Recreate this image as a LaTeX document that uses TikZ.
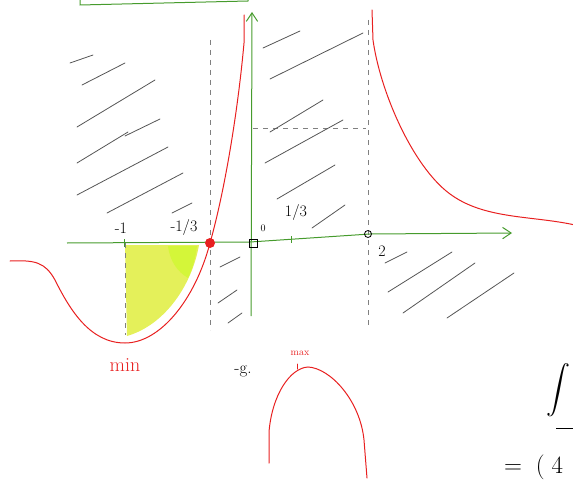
\documentclass[tikz,border=0pt]{standalone}
\usepackage{graphicx}
\usepackage{tikz}
\usetikzlibrary{arrows.meta}
\definecolor{axisgreen}{RGB}{70,155,45}
\definecolor{curvered}{RGB}{232,32,32}
\definecolor{hatchgray}{RGB}{85,85,85}
\definecolor{fillyellow}{RGB}{228,240,90}

\begin{document}
\begin{tikzpicture}[x=1pt, y=-1pt,
  font=\fontsize{16}{18}\selectfont,
  axis/.style={axisgreen, line width=1pt},
  arr/.style={-{Straight Barb[length=3mm, width=4mm]}},
  curve/.style={curvered, line width=1pt, line cap=round},
  hatch/.style={hatchgray, line width=0.8pt, line cap=round},
  guide/.style={gray, dash pattern=on 5pt off 5pt, line width=0.6pt},
  lab/.style={inner sep=1pt}]
\clip (0,0) rectangle (573,487);
\draw[axis] (80,-10) -- (80,5) -- (248,1) -- (248,-10);
% shaded area
\fill[fillyellow] (125,245) -- (199,245) .. controls (192,285) and (165,325) .. (127,336) -- cycle;
\fill[fillyellow!70!yellow!90!green] (168,246) -- (197,246) .. controls (195,260) and (192,270) .. (188,278)
  .. controls (178,272) and (170,262) .. cycle;
% guides
\draw[guide] (210,40) -- (210,330);
\draw[guide] (125,243) -- (125,335);
\draw[guide] (368,20) -- (368,325);
\draw[guide] (253,128) -- (366,128);
% hatching
\foreach \a/\b in {{70,63}/{93,55}, {82,85}/{125,63}, {77,127}/{155,80}, {125,136}/{160,119},
  {77,163}/{128,132}, {77,195}/{168,147}, {107,213}/{183,173}, {172,213}/{192,203},
  {263,48}/{300,31}, {270,79}/{363,33}, {270,132}/{323,100}, {265,163}/{343,120},
  {277,199}/{335,165}, {312,228}/{345,205},
  {220,267}/{240,257}, {218,303}/{237,290}, {228,323}/{242,313},
  {385,263}/{407,252}, {388,292}/{452,252}, {403,313}/{475,263}, {447,318}/{514,273}}
  \draw[hatch] (\a) -- (\b);
% axes
\coordinate (xs) at (67,243);
\coordinate (xe) at (512,233);
\coordinate (ys) at (251,316);
\coordinate (ye) at (252,12);
\draw[axis, arr] (xs) -- (250,242) -- (370,234) -- (xe);
\draw[axis, arr] (ys) -- (ye);
\draw[axis] (124,239) -- (124,247);
\draw[axis] (291,236) -- (291,243);
% curves
\draw[curve] (10,261) .. controls (35,260) and (45,262) .. (55,280)
  .. controls (70,310) and (90,343) .. (125,343)
  .. controls (160,343) and (195,300) .. (210,243)
  .. controls (225,190) and (238,110) .. (244,43) -- (244,15);
\draw[curve] (372,10) -- (373,40)
  .. controls (380,90) and (410,160) .. (445,190)
  .. controls (480,220) and (530,215) .. (575,225);
\draw[curve] (269,463) -- (269,432) .. controls (272,395) and (290,368) .. (308,367)
  .. controls (330,368) and (360,400) .. (364,440) -- (367,478);
\draw[curve] (297,364) -- (297,369);
% points
\node[circle, fill=curvered, minimum size=10pt, inner sep=0pt] (third) at (210,243) {};
\node[draw, minimum size=8pt, inner sep=0pt, line width=0.8pt] (origin) at (253,243) {};
\node[draw, circle, minimum size=7pt, inner sep=0pt, line width=0.8pt] (two) at (368,234) {};
% labels
\node[lab] (lm1) at (121,228) {-1};
\node[lab] (lm13) at (184,227) {-1/3};
\node[lab, font=\normalsize] (l0) at (263,228) {0};
\node[lab] (l13) at (296,212) {1/3};
\node[lab] (l2) at (382,251) {2};
\node[lab, text=curvered, font=\fontsize{20}{22}\selectfont] (lmin) at (125,365) {min};
\node[lab, text=curvered, font=\normalsize] (lmax) at (300,353) {max};
\node[lab, font=\fontsize{17}{19}\selectfont] (lg) at (243,371) {-g.};
\node[lab] (int) at (558,390) {\scalebox{2.4}{$\displaystyle\int$}};
\draw (556,428) -- (575,428);
\node[lab, font=\fontsize{26}{30}\selectfont, anchor=west] (eq) at (503,467) {$=\;(\;4$};
\end{tikzpicture}
\end{document}
